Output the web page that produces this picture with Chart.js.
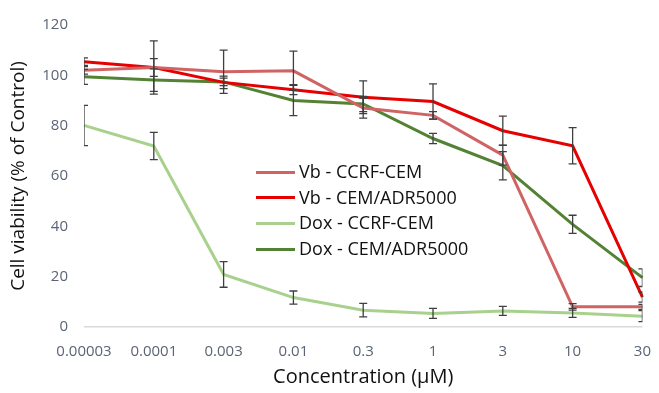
<!DOCTYPE html>
<html>
<head>
<meta charset="utf-8">
<script src="https://cdn.jsdelivr.net/npm/chart.js@4"></script>
<style>
  body { margin: 0; background: #fff; }
  #wrap { position: relative; width: 659px; height: 393px; }
  #legend { position: absolute; left: 256px; top: 159px; font-family: "Open Sans", sans-serif; font-size: 18px; color: #111; }
  #legend div { height: 25.7px; line-height: 25.7px; white-space: nowrap; }
  #legend span.sw { display: inline-block; width: 39px; height: 3px; vertical-align: middle; margin-right: 4px; position: relative; top: -1px; }
</style>
</head>
<body>
<div id="wrap">
  <canvas id="myChart" width="659" height="393"></canvas>
  <div id="legend"></div>
</div>
<script>
var concentrations = ['0.00003', '0.0001', '0.003', '0.01', '0.3', '1', '3', '10', '30'];

var vbCcrf = [102.0, 103.1, 101.4, 101.8, 87.0, 84.1, 68.3, 8.0, 8.0];
var vbCcrfErr = [1.5, 10.6, 8.6, 7.8, 4.0, 1.5, 4.0, 1.3, 1.0];

var vbAdr = [105.4, 103.1, 97.2, 94.3, 91.3, 89.6, 78.0, 72.0, 11.9];
var vbAdrErr = [1.5, 3.5, 2.5, 2.0, 6.5, 7.0, 5.8, 7.2, 2.0];

var doxCcrf = [80.1, 71.9, 20.9, 11.7, 6.7, 5.4, 6.4, 5.6, 4.3];
var doxCcrfErr = [8.0, 5.4, 5.1, 2.6, 2.7, 2.0, 1.8, 1.8, 2.2];

var doxAdr = [99.4, 98.1, 97.4, 90.0, 88.6, 74.9, 64.1, 40.8, 19.6];
var doxAdrErr = [3.0, 4.5, 1.5, 6.0, 3.0, 2.0, 5.6, 3.6, 3.5];

var seriesLabels = ['Vb - CCRF-CEM', 'Vb - CEM/ADR5000', 'Dox - CCRF-CEM', 'Dox - CEM/ADR5000'];
var seriesColors = ['#d06464', '#e60000', '#a9d18e', '#548235'];

var tickColor = '#5b6475';

// error bars, drawn from the scales and clipped to the plot area
var errorBars = {
    id: 'errorBars',
    afterDatasetsDraw: function (chart) {
        var ctx = chart.ctx;
        var area = chart.chartArea;
        var ys = chart.scales.y;
        ctx.save();
        ctx.beginPath();
        ctx.rect(area.left, area.top - 20, area.right - area.left, area.bottom - area.top + 20);
        ctx.clip();
        ctx.strokeStyle = '#3f3f3f';
        ctx.lineWidth = 1.3;
        chart.data.datasets.forEach(function (ds, i) {
            var meta = chart.getDatasetMeta(i);
            meta.data.forEach(function (pt, j) {
                var v = ds.data[j], e = ds.err[j];
                var yTop = ys.getPixelForValue(v + e);
                var yBot = ys.getPixelForValue(v - e);
                var x = pt.x;
                ctx.beginPath();
                ctx.moveTo(x, yTop); ctx.lineTo(x, yBot);
                ctx.moveTo(x - 4, yTop); ctx.lineTo(x + 4, yTop);
                ctx.moveTo(x - 4, yBot); ctx.lineTo(x + 4, yBot);
                ctx.stroke();
            });
        });
        ctx.restore();
    }
};

function makeSet(i, data, err) {
    return {
        label: seriesLabels[i],
        data: data,
        err: err,
        borderColor: seriesColors[i],
        backgroundColor: seriesColors[i],
        borderWidth: 3,
        pointRadius: 0,
        tension: 0,
        fill: false
    };
}

var ctx = document.getElementById('myChart').getContext('2d');
var myChart = new Chart(ctx, {
    type: 'line',
    data: {
        labels: concentrations,
        datasets: [
            makeSet(0, vbCcrf, vbCcrfErr),
            makeSet(1, vbAdr, vbAdrErr),
            makeSet(2, doxCcrf, doxCcrfErr),
            makeSet(3, doxAdr, doxAdrErr)
        ]
    },
    options: {
        responsive: false,
        animation: false,
        layout: { padding: { top: 22, right: 12, left: 7, bottom: 0 } },
        plugins: {
            legend: { display: false },
            tooltip: { enabled: false }
        },
        scales: {
            x: {
                offset: false,
                grid: { display: false },
                border: { display: false },
                ticks: { color: tickColor, font: { family: 'Open Sans', size: 15 }, maxRotation: 0, padding: 8 },
                title: { display: true, text: 'Concentration (μM)', color: '#111', font: { family: 'Open Sans', size: 20 }, padding: { top: 4, bottom: 4 } },
                afterFit: function (scale) { scale.height = 66; }
            },
            y: {
                min: 0,
                max: 120,
                ticks: { stepSize: 20, color: tickColor, font: { family: 'Open Sans', size: 15 }, padding: 16 },
                grid: {
                    drawTicks: false,
                    lineWidth: 1.5,
                    color: function (c) { return c.tick && c.tick.value === 0 ? '#d9d9d9' : 'rgba(0,0,0,0)'; }
                },
                border: { display: false },
                title: { display: true, text: 'Cell viability (% of Control)', color: '#111', font: { family: 'Open Sans', size: 19 }, padding: { top: 0, bottom: 8 } },
                afterFit: function (scale) { scale.width = 77; }
            }
        }
    },
    plugins: [errorBars]
});

var legendDiv = document.getElementById('legend');
seriesLabels.forEach(function (lab, i) {
    var row = document.createElement('div');
    row.innerHTML = '<span class="sw" style="background:' + seriesColors[i] + '"></span>' + lab;
    legendDiv.appendChild(row);
});
</script>
</body>
</html>
